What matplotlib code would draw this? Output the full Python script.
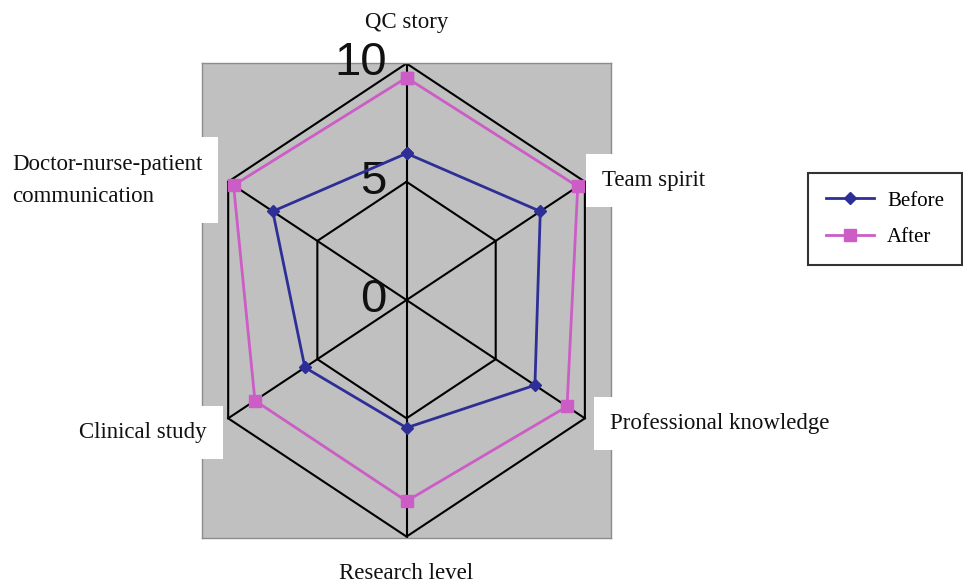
import numpy as np
import matplotlib
matplotlib.use('Agg')
import matplotlib.pyplot as plt
from matplotlib.lines import Line2D

# ========== ДАННЫЕ ==========
categories = ['QC story', 'Team spirit', 'Professional knowledge',
              'Research level', 'Clinical study', 'Doctor-nurse-patient\ncommunication']
before = [6.2, 7.5, 7.2, 5.4, 5.7, 7.5]
after = [9.4, 9.6, 9.0, 8.5, 8.5, 9.7]
ring_values = [0, 5, 10]
ring_labels = ['0', '5', '10']
series_names = ['Before', 'After']

# ========== НАСТРОЙКИ ==========
serif = ['Liberation Serif', 'DejaVu Serif']
col_before = '#2E2F96'
col_after = '#CC5CC6'

# углы осей: сверху и по часовой стрелке
angles = np.deg2rad(90 - 60 * np.arange(len(categories)))


def to_xy(values):
    v = np.asarray(values, dtype=float)
    x = v * np.cos(angles)
    y = v * np.sin(angles)
    return np.append(x, x[0]), np.append(y, y[0])


fig = plt.figure(figsize=(9.63, 5.85), dpi=100)
ax = fig.add_axes([0.2098, 0.0803, 0.4247, 0.812])
ax.set_facecolor('#C0C0C0')
ax.set_xlim(-9.93, 9.93)
ax.set_ylim(-10.06, 10.02)
ax.set_xticks([])
ax.set_yticks([])
for sp in ax.spines.values():
    sp.set_color('#8C8C8C')
    sp.set_linewidth(1.0)

# сетка: шестиугольники и лучи
for r in ring_values[1:]:
    gx, gy = to_xy([r] * len(categories))
    ax.plot(gx, gy, color='black', lw=1.5, zorder=2)
for a in angles:
    ax.plot([0, max(ring_values) * np.cos(a)], [0, max(ring_values) * np.sin(a)],
            color='black', lw=1.5, zorder=2)

# подписи шкалы
for v, lab in zip(ring_values, ring_labels):
    ax.text(-0.95, v, lab, ha='right', va='center', fontsize=34,
            family='Liberation Sans', color='#111111', zorder=3, clip_on=False)

# ряды
bx, by = to_xy(before)
ax.plot(bx, by, color=col_before, lw=2, marker='D', markersize=6.5, zorder=5)
axx, ayy = to_xy(after)
ax.plot(axx, ayy, color=col_after, lw=2, marker='s', markersize=8, zorder=4)

# подписи категорий
box = dict(boxstyle='square,pad=0.7', facecolor='white', edgecolor='none')
label_pos = [
    (0, 11.75, 'center'),
    (9.48, 5.07, 'left'),
    (9.87, -5.2, 'left'),
    (0, -11.55, 'center'),
    (-9.69, -5.58, 'right'),
    (-19.16, 5.07, 'left'),
]
for (x, y, ha), name in zip(label_pos, categories):
    b = box if ha != 'center' else None
    ax.text(x, y, name, ha=ha, va='center', fontsize=16.5, family=serif,
            color='#111111', bbox=b, zorder=6, clip_on=False, linespacing=1.7)

# легенда
handles = [
    Line2D([0], [0], color=col_before, lw=2, marker='D', markersize=6.5),
    Line2D([0], [0], color=col_after, lw=2, marker='s', markersize=8),
]
leg = fig.legend(handles, series_names, loc='center left',
                 bbox_to_anchor=(808 / 963, 1 - 219 / 585),
                 prop={'family': serif, 'size': 15}, fancybox=False,
                 frameon=True, edgecolor='black', handlelength=2.3,
                 borderpad=0.85, labelspacing=0.8, handletextpad=0.65,
                 borderaxespad=0)
leg.get_frame().set_linewidth(1.5)

fig.savefig('out.png', dpi=100, facecolor='white')
